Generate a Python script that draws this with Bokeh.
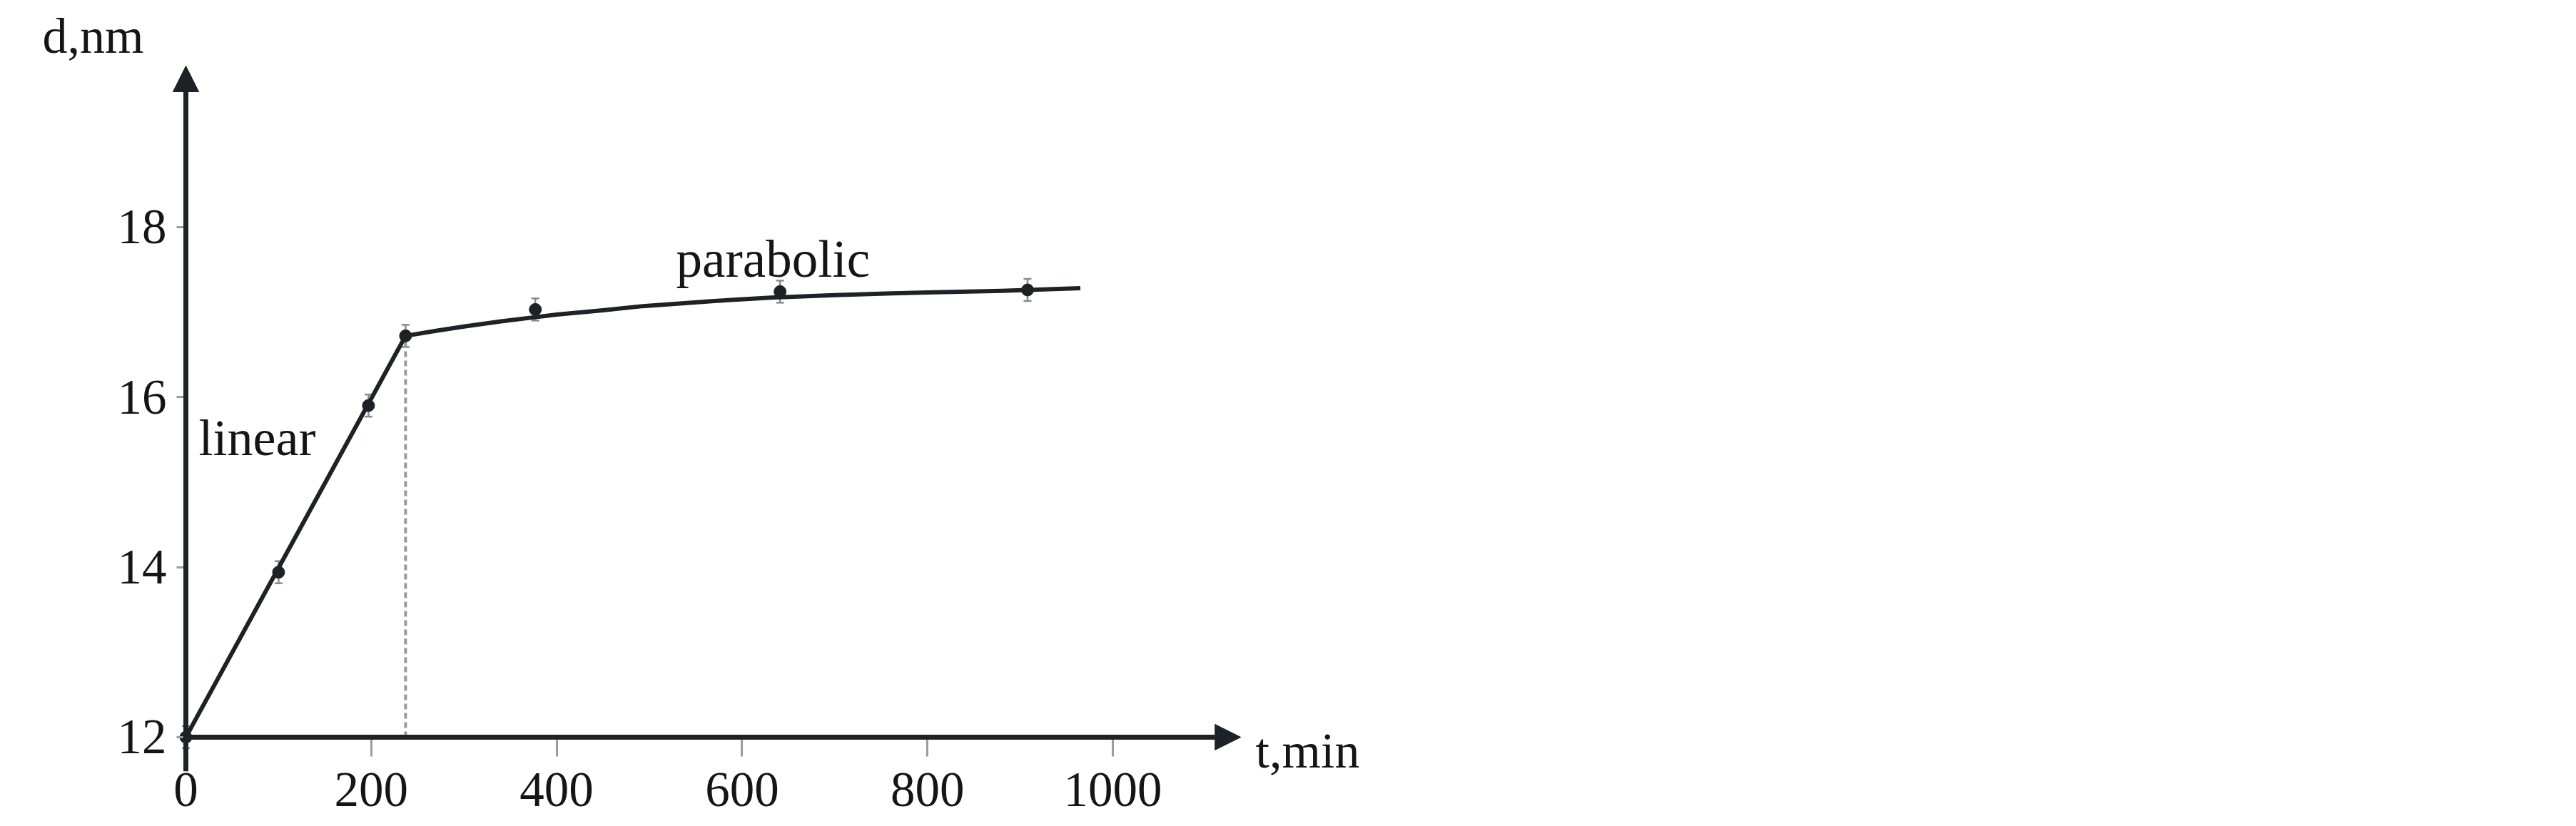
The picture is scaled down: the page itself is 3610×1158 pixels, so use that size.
from bokeh.plotting import figure
from bokeh.models import (Range1d, FixedTicker, Label, Arrow, NormalHead,
                          Whisker, TeeHead, ColumnDataSource)
from bokeh.embed import file_html
from bokeh.resources import INLINE

# ---- data ----
t_points = [0, 100, 197, 237, 377, 641, 908]
d_points = [12.0, 13.94, 15.90, 16.72, 17.03, 17.24, 17.26]
d_err = [0.13, 0.13, 0.13, 0.13, 0.13, 0.13, 0.13]

linear_t = [0, 237]
linear_d = [12.0, 16.72]
parab_t = [237, 270, 300, 340, 377, 400, 450, 493, 570, 631, 700, 762, 800, 880, 965]
parab_d = [16.72, 16.78, 16.83, 16.89, 16.94, 16.97, 17.02, 17.07, 17.13, 17.17,
           17.20, 17.22, 17.23, 17.25, 17.28]

t_transition = 237
d_transition = 16.72

x_ticks = [0, 200, 400, 600, 800, 1000]
y_ticks = [12, 14, 16, 18]

x_label = "t,min"
y_label = "d,nm"
linear_label = "linear"
parab_label = "parabolic"

# ---- styles ----
FONT = "Liberation Serif"
INK = "#1c2226"
TXT = "#161414"
TICK = "#9c9c9c"

W, H = 3594, 1158
p = figure(width=W, height=H, x_range=Range1d(-200.15, 2566.6),
           y_range=Range1d(10.951, 20.666), min_border=0,
           toolbar_location=None, output_backend="svg",
           background_fill_color="white", border_fill_color="white")
p.outline_line_color = None
p.xgrid.visible = False
p.ygrid.visible = False

for ax, loc, ticks, out in ((p.xaxis[0], 12, x_ticks, 27), (p.yaxis[0], 0, y_ticks, 13)):
    ax.fixed_location = loc
    ax.ticker = FixedTicker(ticks=ticks)
    ax.axis_line_color = None
    ax.major_tick_line_color = TICK
    ax.major_tick_line_width = 3
    ax.major_tick_out = out
    ax.major_tick_in = 0
    ax.minor_tick_line_color = None
    ax.major_label_text_font = FONT
    ax.major_label_text_font_size = "69px"
    ax.major_label_text_color = TXT
p.xaxis[0].major_label_standoff = 24
p.yaxis[0].major_label_standoff = 14

# axis arrows
p.add_layout(Arrow(end=NormalHead(size=36, fill_color=INK, line_color=INK, line_width=1),
                   x_start=0, y_start=11.6, x_end=0, y_end=19.894,
                   line_color=INK, line_width=7))
p.add_layout(Arrow(end=NormalHead(size=36, fill_color=INK, line_color=INK, line_width=1),
                   x_start=-3, y_start=12, x_end=1138, y_end=12,
                   line_color=INK, line_width=7))

# dashed transition line
p.line([t_transition, t_transition], [12, d_transition], line_color="#9a9a9a",
       line_width=4, line_dash="8 5")

# fitted lines
p.line(linear_t, linear_d, line_color=INK, line_width=6)
p.line(parab_t, parab_d, line_color=INK, line_width=6, line_join="round")

# error bars and points
src = ColumnDataSource(dict(t=t_points, d=d_points,
                            lo=[d - e for d, e in zip(d_points, d_err)],
                            hi=[d + e for d, e in zip(d_points, d_err)]))
p.add_layout(Whisker(source=src, base="t", lower="lo", upper="hi", dimension="height",
                     line_color="#8a8a8a", line_width=2.5,
                     upper_head=TeeHead(size=11, line_color="#8a8a8a", line_width=2.5),
                     lower_head=TeeHead(size=11, line_color="#8a8a8a", line_width=2.5)))
p.scatter("t", "d", source=src, size=17, color=INK)

# texts
def lab(x, y, txt, size):
    p.add_layout(Label(x=x, y=y, text=txt, text_font=FONT, text_font_size=size,
                       text_color=TXT, text_baseline="alphabetic", text_align="left"))

lab(-154.7, 20.247, y_label, "70px")
lab(1154, 11.841, x_label, "70px")
lab(13.9, 15.523, linear_label, "72px")
lab(528.9, 17.621, parab_label, "73px")

open("out.html", "w").write(file_html(p, INLINE))
